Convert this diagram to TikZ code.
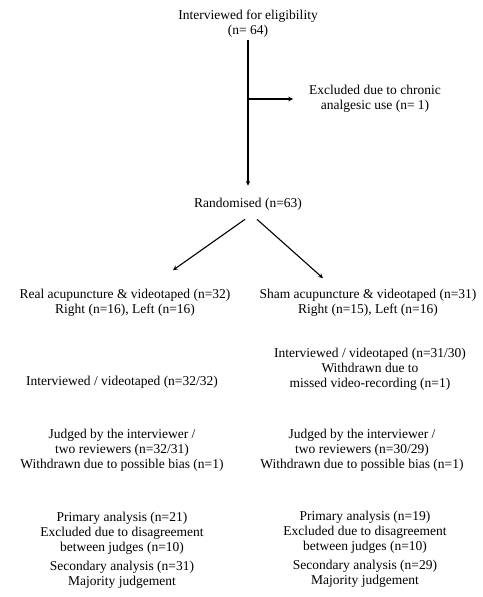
\documentclass[tikz,border=0pt]{standalone}
\usepackage{fontspec}
\setmainfont{Liberation Serif}
\usetikzlibrary{arrows, positioning}

\begin{document}
\begin{tikzpicture}[
            x=1pt, y=-1pt,
            font=\fontsize{13.5}{15}\selectfont,
            txt/.style={align=center, inner sep=0pt},
            arrow/.style={line width=1.1pt,->,>=stealth, draw=black}
        ]
        \useasboundingbox (0,0) rectangle (482,597);

        \node (elig) [txt] at (248,24) {Interviewed for eligibility\\(n= 64)};
        \node (excl) [txt] at (375,99) {Excluded due to chronic\\analgesic use (n= 1)};
        \node (rand) [txt] at (248,204) {Randomised (n=63)};

        \node (real) [txt] at (125,303) {Real acupuncture \& videotaped (n=32)\\Right (n=16), Left (n=16)};
        \node (sham) [txt] at (368,303) {Sham acupuncture \& videotaped (n=31)\\Right (n=15), Left (n=16)};

        \node (intreal) [txt] at (122,382) {Interviewed / videotaped (n=32/32)};
        \node (intsham) [txt] at (370,369) {Interviewed / videotaped (n=31/30)\\Withdrawn due to\\missed video-recording (n=1)};

        \node (judreal) [txt] at (122,450) {Judged by the interviewer /\\two reviewers (n=32/31)\\Withdrawn due to possible bias (n=1)};
        \node (judsham) [txt] at (362,450) {Judged by the interviewer /\\two reviewers (n=30/29)\\Withdrawn due to possible bias (n=1)};

        \node (anareal) [txt] at (122,550) {Primary analysis (n=21)\\Excluded due to disagreement\\between judges (n=10)\\[4pt]Secondary analysis (n=31)\\Majority judgement};
        \node (anasham) [txt] at (365,549) {Primary analysis (n=19)\\Excluded due to disagreement\\between judges (n=10)\\[4pt]Secondary analysis (n=29)\\Majority judgement};

        \coordinate (split) at (elig.south |- excl.west);

        \draw [arrow, shorten <=2pt, shorten >=12pt] (elig.south) -- (rand.north);
        \draw [arrow, shorten >=16pt] (split) -- (excl.west);
        \draw [arrow] ([xshift=-3pt, yshift=-9pt]rand.south) -- ([xshift=48pt, yshift=19pt]real.north);
        \draw [arrow] ([xshift=9pt, yshift=-9pt]rand.south) -- ([xshift=-45pt, yshift=11pt]sham.north);
\end{tikzpicture}
\end{document}
